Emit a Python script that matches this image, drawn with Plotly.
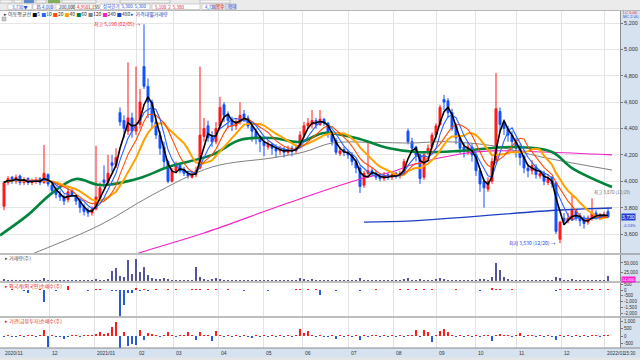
import pandas as pd
import plotly.graph_objects as go
from plotly.subplots import make_subplots

# ---------------- data ----------------
month_labels = ["2020/11", "12", "2021/01", "02", "03", "04", "05", "06",
                "07", "08", "09", "10", "11", "12", "2022/01"]
month_pos = [-0.5, 11.25, 22.5, 33, 42.25, 53.5, 64.75, 74.5, 86, 97.25,
             108, 117.75, 128, 139.25, 150]

opens = [3810, 3990, 4030, 4000, 4040, 3990, 4020, 3990, 4000, 4020, 3990, 4050, 3970, 3940, 3900, 3880, 3860, 3930, 3890,
         3850, 3810, 3780, 3760, 3790, 3870, 4010, 3990, 4140, 4120, 4520, 4460, 4380, 4480, 4380, 4430, 4870, 4720, 4600,
         4450, 4350, 4260, 4150, 4000, 4080, 4120, 4090, 4060, 4030, 4050, 4100, 4340, 4420, 4340, 4300, 4420, 4580, 4510,
         4460, 4420, 4450, 4510, 4480, 4420, 4380, 4340, 4300, 4260, 4280, 4250, 4230, 4240, 4220, 4250, 4230, 4260, 4350,
         4420, 4430, 4460, 4430, 4470, 4440, 4360, 4310, 4210, 4240, 4220, 4200, 4150, 4100, 3970, 4060, 4080, 4060, 4040,
         4020, 4050, 4030, 4060, 4040, 4060, 4380, 4300, 4260, 4200, 4030, 4220, 4260, 4350, 4430, 4620, 4610, 4520, 4420,
         4330, 4260, 4220, 4260, 4200, 4080, 4000, 3940, 4000, 4160, 4530, 4440, 4400, 4350, 4300, 4250, 4190, 4100, 4080,
         4110, 4040, 4060, 3990, 4030, 3990, 3560, 3720, 3700, 3710, 3780, 3740, 3720, 3690, 3720, 3760, 3720, 3730, 3770]
highs = [4000, 4040, 4040, 4050, 4050, 4030, 4030, 4020, 4030, 4030, 4275, 4060, 3990, 3960, 3930, 3900, 3960, 3940, 3900,
         3870, 3830, 3800, 3810, 4270, 3990, 4120, 4200, 4200, 4250, 4560, 4500, 4900, 4520, 4870, 4700, 5190, 4780, 4620,
         4480, 4380, 4300, 4160, 4100, 4150, 4140, 4110, 4080, 4080, 4110, 4870, 4480, 4460, 4380, 4450, 4640, 4600, 4530,
         4490, 4480, 4600, 4540, 4500, 4450, 4400, 4350, 4320, 4310, 4290, 4280, 4270, 4260, 4270, 4270, 4280, 4380, 4450,
         4480, 4540, 4480, 4540, 4480, 4450, 4380, 4330, 4260, 4260, 4240, 4220, 4170, 4120, 4080, 4300, 4100, 4080, 4060,
         4070, 4060, 4070, 4070, 4080, 4170, 4400, 4330, 4270, 4210, 4220, 4280, 4370, 4440, 4580, 4655, 4630, 4550, 4440,
         4350, 4290, 4300, 4290, 4220, 4100, 4020, 4030, 4180, 4820, 4560, 4470, 4420, 4380, 4330, 4280, 4200, 4130, 4160,
         4130, 4080, 4080, 4050, 4040, 4000, 3700, 3760, 3760, 3895, 3790, 3760, 3740, 3740, 3870, 3780, 3760, 3770, 3800]
lows = [3780, 3970, 3980, 3980, 3970, 3970, 3970, 3970, 3980, 3970, 3980, 3960, 3910, 3870, 3850, 3820, 3840, 3880, 3820,
        3760, 3740, 3730, 3740, 3780, 3850, 3950, 3970, 4070, 4100, 4420, 4330, 4350, 4330, 4350, 4400, 4700, 4480, 4400,
        4320, 4200, 4100, 3985, 3990, 4060, 4060, 4040, 4020, 4020, 4030, 4090, 4300, 4300, 4260, 4280, 4400, 4450, 4400,
        4380, 4390, 4430, 4450, 4400, 4300, 4280, 4220, 4190, 4240, 4200, 4180, 4200, 4180, 4200, 4190, 4210, 4250, 4330,
        4400, 4400, 4400, 4420, 4420, 4330, 4270, 4200, 4190, 4190, 4170, 4120, 4060, 3910, 3950, 4040, 4040, 4010, 4000,
        4000, 4010, 4010, 4020, 4020, 4050, 4280, 4230, 4150, 3980, 4010, 4200, 4240, 4330, 4420, 4540, 4480, 4380, 4280,
        4210, 4180, 4200, 4150, 4040, 3920, 3800, 3920, 3980, 4140, 4380, 4350, 4300, 4240, 4180, 4120, 4060, 4030, 4050,
        4020, 4020, 3970, 3970, 3950, 3600, 3530, 3680, 3680, 3700, 3700, 3660, 3640, 3670, 3700, 3710, 3710, 3720, 3720]
closes = [3990, 4020, 4000, 4030, 3990, 4010, 3990, 4000, 4010, 3990, 4060, 3980, 3930, 3900, 3880, 3850, 3920, 3900, 3850,
          3800, 3770, 3760, 3790, 3880, 3950, 3990, 4060, 4120, 4180, 4450, 4400, 4480, 4380, 4420, 4600, 4720, 4600, 4450,
          4350, 4250, 4150, 4000, 4080, 4120, 4080, 4060, 4040, 4050, 4080, 4350, 4400, 4330, 4300, 4400, 4560, 4500, 4460,
          4420, 4450, 4500, 4480, 4420, 4380, 4330, 4300, 4270, 4280, 4250, 4230, 4240, 4220, 4240, 4230, 4250, 4350, 4420,
          4440, 4460, 4430, 4470, 4440, 4360, 4300, 4220, 4230, 4220, 4200, 4150, 4100, 3960, 4060, 4080, 4060, 4030, 4020,
          4040, 4030, 4050, 4040, 4060, 4150, 4300, 4250, 4200, 4020, 4200, 4250, 4350, 4420, 4560, 4600, 4520, 4400, 4330,
          4250, 4230, 4260, 4200, 4080, 3980, 3950, 4000, 4150, 4550, 4430, 4400, 4350, 4300, 4250, 4180, 4100, 4080, 4120,
          4050, 4060, 4000, 4020, 3980, 3620, 3690, 3700, 3720, 3780, 3720, 3700, 3680, 3720, 3760, 3730, 3740, 3750, 3730]
volume = [6000, 3000, 2500, 2500, 2000, 2000, 2500, 2000, 2000, 2500, 8000, 3000, 2500, 2000, 2000, 2500, 3500, 2000, 2000,
          2500, 2000, 2500, 2000, 6000, 4000, 3500, 5000, 28000, 36000, 15000, 10000, 58000, 20000, 61000, 25000, 39000, 18000, 8000,
          6000, 5000, 8000, 5000, 3000, 3000, 2500, 2500, 3000, 4000, 40000, 12000, 6000, 4000, 5000, 8000, 6000, 4000, 3000,
          3000, 3000, 4000, 3000, 2500, 2500, 2000, 2500, 2000, 2000, 2000, 2000, 2000, 2000, 2000, 2000, 3500, 7000, 5000,
          4000, 5000, 3000, 4000, 3000, 3000, 3000, 2500, 2500, 2500, 2500, 3000, 3000, 8000, 4000, 3000, 2500, 2000, 2000,
          2000, 2000, 2000, 2000, 2500, 5000, 9000, 4000, 3000, 6000, 3000, 3500, 4000, 5000, 8000, 6000, 4000, 3000, 3000,
          3000, 2500, 2500, 3000, 4000, 6000, 5000, 4000, 12000, 50000, 30000, 10000, 6000, 4000, 3000, 3000, 3000, 2500, 3000,
          2500, 2500, 2500, 2000, 3000, 12000, 9000, 4000, 3000, 5000, 3000, 2500, 3000, 2500, 4000, 3000, 2500, 3000, 14000]
foreign_net = [40, -30, 50, -40, 30, -60, -250, 40, -30, 50, -1000, -40, 30, -50, 40, 30, 350, -30, 40,
               -40, 30, -50, 40, 60, 50, -40, 30, -60, -80, -2200, -1300, -300, -250, 150, -100, 60, -50, 40,
               50, 40, -30, 60, 40, 50, 30, 40, -30, 50, 80, 60, 40, 50, 30, 60, 40, 30, 50,
               -30, -40, 30, -50, -30, -40, 30, -30, -40, -50, 30, -30, -40, -30, 40, -30, 50, 60, 40,
               50, 40, 60, -400, 30, -40, -30, -50, 40, -30, -40, -30, 40, -60, 30, 40, -30, 50, -40,
               30, -40, 40, -30, 50, 40, 60, -40, 50, 30, 60, 40, 50, 30, 40, 30, 40, 30, 50,
               40, -30, 40, 30, -30, -50, 40, 30, 200, 80, 50, 30, 40, 60, -40, 30, -40, 40, 30,
               -30, 30, -40, -30, 40, -60, 50, 40, 60, 40, 50, 60, 40, 50, 60, 40, 50, 40, 60]
inst_net = [-80, 60, -60, -100, 80, -60, 40, 60, -50, 80, 420, -750, 60, -80, -60, -200, -80, 60, 40,
            -60, 40, 60, 80, 120, 280, 150, 200, 620, 950, -1000, 300, -700, -550, -600, 400, -300, 200, 150,
            80, -60, 50, 300, 60, -80, 50, 80, 250, 60, -300, 300, 80, 60, -350, 350, 80, -60, 50,
            -100, 80, -80, 60, -60, -120, 80, -60, 50, -80, 60, -50, 60, -80, 50, -60, 80, 500, 200,
            350, 100, -80, 60, -60, -80, 60, -200, 80, -60, 60, -100, 50, -300, 60, -80, 50, 60, -80,
            60, -80, 50, -60, 80, -60, 100, 50, 400, -80, 380, 300, -400, 60, 350, 450, 300, 80, -60,
            80, -60, 50, -80, 60, -100, 60, 80, -350, 100, 150, 60, 80, -60, 50, 200, -80, 60, 50,
            -80, 60, -60, 80, -50, -250, 60, -100, 80, -60, 50, -80, 60, -50, 80, 60, -60, 50, 80]

# long moving averages (candle index, price)
ma60_idx = [-1, 6, 12, 18, 24, 34, 41, 52, 59, 67, 74, 80, 88, 96, 103, 114, 127, 137, 142, 152]
ma60_val = [3590, 3745, 3910, 4017, 3971, 4025, 4108, 4200, 4313, 4328, 4298, 4366, 4328, 4252, 4222, 4230, 4260, 4222, 4100, 3956]
ma120_idx = [-1, 7, 24, 37, 52, 67, 75, 82, 92, 102, 110, 122, 135, 152]
ma120_val = [3350, 3448, 3668, 3895, 4108, 4177, 4222, 4290, 4295, 4290, 4300, 4270, 4180, 4085]
ma240_idx = [29, 33, 50, 71, 90, 97, 102, 114, 122, 135, 152]
ma240_val = [3400, 3448, 3607, 3835, 4025, 4070, 4125, 4207, 4230, 4222, 4200]
ma480_idx = [90, 102, 139, 152]
ma480_val = [3690, 3699, 3782, 3797]

price_ticks = [3600, 3800, 4000, 4200, 4400, 4600, 4800, 5000, 5200]
vol_ticks = [25000, 50000]
foreign_ticks = [500, 0, -500, -1000, -1500, -2000]
inst_ticks = [1000, 500, 0, -500]

# ---------------- helpers for layout positions ----------------
PLOT_W, TOP, BOT = 620.0, 11.0, 348.0
def py(px):
    return (BOT - px) / (BOT - TOP)
def pxx(px):
    return px / PLOT_W

FONT = "Noto Sans CJK KR, Noto Sans, sans-serif"
NUMFONT = "Liberation Sans, Arial, sans-serif"
RED, BLUE = "#ff1a1a", "#1450ff"

n = len(closes)
xs = list(range(n))
cs = pd.Series(closes)

fig = make_subplots(rows=4, cols=1, shared_xaxes=True, vertical_spacing=0)

fig.add_trace(go.Candlestick(
    x=xs, open=opens, high=highs, low=lows, close=closes,
    increasing=dict(line=dict(color=RED, width=1), fillcolor=RED),
    decreasing=dict(line=dict(color=BLUE, width=1), fillcolor=BLUE),
    whiskerwidth=0, hoverinfo="skip"), row=1, col=1)

for idx, val, col, w in [(ma480_idx, ma480_val, "#1f3fc4", 1.3),
                         (ma240_idx, ma240_val, "#f020c8", 1.1),
                         (ma120_idx, ma120_val, "#808080", 1.0),
                         (ma60_idx, ma60_val, "#00843c", 2.6)]:
    fig.add_trace(go.Scatter(x=idx, y=val, mode="lines", hoverinfo="skip",
                             line=dict(color=col, width=w, shape="spline", smoothing=1.0)),
                  row=1, col=1)

for win, col, w in [(12, "#ffa200", 2.0), (8, "#ff4b00", 1.1), (5, "#2a62ff", 1.1), (3, "#000000", 1.6)]:
    ma = cs.rolling(win, min_periods=1).mean()
    fig.add_trace(go.Scatter(x=xs, y=ma, mode="lines", hoverinfo="skip",
                             line=dict(color=col, width=w)), row=1, col=1)

fig.add_trace(go.Bar(x=xs, y=volume, marker_color="#55559a", marker_line_width=0,
                     width=0.55, hoverinfo="skip"), row=2, col=1)
fig.add_trace(go.Bar(x=xs, y=foreign_net, width=0.6, marker_line_width=0, hoverinfo="skip",
                     marker_color=[RED if v >= 0 else "#2a5bd7" for v in foreign_net]), row=3, col=1)
fig.add_trace(go.Bar(x=xs, y=inst_net, width=0.6, marker_line_width=0, hoverinfo="skip",
                     marker_color=[RED if v >= 0 else "#2a5bd7" for v in inst_net]), row=4, col=1)

fig.update_xaxes(range=[-1, 154], tickvals=month_pos[1:], showticklabels=False, ticks="",
                 showgrid=True, gridcolor="#e3e3e3", gridwidth=1, zeroline=False,
                 showline=False, rangeslider_visible=False, automargin=False)

def ycommon(size):
    return dict(side="right", tickfont=dict(size=size, color="#333", family=NUMFONT), ticks="outside",
                ticklen=2, tickcolor="#777", showline=True, linecolor="#8a8a8a", linewidth=1,
                zeroline=False, fixedrange=True, automargin=False)

fig.update_yaxes(domain=[py(253), 1.0], range=[3455.9, 5291], tickvals=price_ticks,
                 ticktext=[f"{v:,}" for v in price_ticks], showgrid=True, gridcolor="#e6e6e6",
                 row=1, col=1, **ycommon(5.5))
fig.update_yaxes(domain=[py(281), py(255)], range=[0, 72200], tickvals=vol_ticks,
                 ticktext=[f"{v:,}" for v in vol_ticks], showgrid=False, row=2, col=1, **ycommon(4.6))
fig.update_yaxes(domain=[py(316), py(283)], range=[-2236, 602], tickvals=foreign_ticks,
                 ticktext=[f"{v:,}" for v in foreign_ticks], showgrid=False, row=3, col=1, **ycommon(4.6))
fig.update_yaxes(domain=[py(348), py(318)], range=[-822, 1233], tickvals=inst_ticks,
                 ticktext=[f"{v:,}" for v in inst_ticks], showgrid=False, row=4, col=1, **ycommon(4.6))

shapes = []
# white plotting backdrop (covers the gaps between panels)
shapes.append(dict(type="rect", xref="paper", yref="paper", x0=0, x1=1, y0=0, y1=1,
                   fillcolor="white", line=dict(width=0), layer="below"))
# panel separators
for sep in [254, 282, 317]:
    shapes.append(dict(type="line", xref="paper", yref="paper", x0=0, x1=pxx(640),
                       y0=py(sep), y1=py(sep), line=dict(color="#7d7d7d", width=1)))
# bottom date band border and scrollbar strip
shapes.append(dict(type="line", xref="paper", yref="paper", x0=0, x1=pxx(640), y0=py(348), y1=py(348),
                   line=dict(color="#8a8a8a", width=1)))
shapes.append(dict(type="rect", xref="paper", yref="paper", x0=0, x1=pxx(640), y0=py(360), y1=py(357.5),
                   fillcolor="#e6e6e6", line=dict(width=0)))
# toolbar
shapes.append(dict(type="rect", xref="paper", yref="paper", x0=0, x1=pxx(640), y0=py(11), y1=py(0),
                   fillcolor="#ebebeb", line=dict(width=0)))
shapes.append(dict(type="line", xref="paper", yref="paper", x0=0, x1=pxx(640), y0=py(10.5), y1=py(10.5),
                   line=dict(color="#b8b8b8", width=1)))
for x0, x1, fc in [(0, 12, "#f6f6f6"), (14, 22, "#f6f6f6"), (24, 34, "#4f86d8"), (36, 46, "#f6f6f6"),
                   (48, 60, "#7fb24a"), (62, 96, "#f6f6f6"), (120, 170, "#f6f6f6"), (200, 230, "#f6f6f6")]:
    shapes.append(dict(type="rect", xref="paper", yref="paper", x0=pxx(x0), x1=pxx(x1),
                       y0=py(3), y1=py(0), fillcolor=fc, line=dict(color="#9a9a9a", width=0.5)))
for x0, x1 in [(8, 32), (33, 38), (39, 52), (56, 72), (74, 96), (100, 150), (152, 200), (202, 212)]:
    shapes.append(dict(type="rect", xref="paper", yref="paper", x0=pxx(x0), x1=pxx(x1),
                       y0=py(9.5), y1=py(4), fillcolor="white", line=dict(color="#a8a8a8", width=0.5)))
shapes.append(dict(type="rect", xref="paper", yref="paper", x0=pxx(213), x1=pxx(223), y0=py(9.5), y1=py(4),
                   fillcolor="#f4c9c4", line=dict(color="#a8a8a8", width=0.5)))
shapes.append(dict(type="rect", xref="paper", yref="paper", x0=pxx(225), x1=pxx(236), y0=py(9.5), y1=py(4),
                   fillcolor="#c9daf2", line=dict(color="#a8a8a8", width=0.5)))
# small collapse icon in the price panel
shapes.append(dict(type="rect", xref="paper", yref="paper", x0=pxx(2), x1=pxx(6), y0=py(21), y1=py(17),
                   fillcolor="#c8c8c8", line=dict(color="#999", width=0.5)))

ann = []
def note(x, y, text, size=6, color="#333", xanchor="left", yanchor="middle", xref="paper", yref="paper",
         family=FONT, **kw):
    ann.append(dict(x=x, y=y, text=text, xref=xref, yref=yref, xanchor=xanchor, yanchor=yanchor,
                    showarrow=False, font=dict(size=size, color=color, family=family), **kw))

legend_html = ('▸ 이동평균선 <span style="color:#000">■</span>5 <span style="color:#2a62ff">■</span>10 '
               '<span style="color:#ff4b00">■</span>20 <span style="color:#ffa200">■</span>40 '
               '<span style="color:#00843c">■</span>60 <span style="color:#808080">■</span>120 '
               '<span style="color:#f020c8">■</span>240 <span style="color:#1f3fc4">■</span>480 '
               '<span style="color:#1f3fc4">▸ 가격대별거래량</span>')
note(pxx(2), py(14), legend_html, size=5, color="#333")
note(pxx(3), py(258), "▸ 거래량(주)", size=5, color="#444")
note(pxx(3), py(286), "▸ 외국계(외국인)순매수(주)", size=5, color="#e02020")
note(pxx(3), py(321), "▸ 기관(금융투자)순매수(주)", size=5, color="#e02020")

# toolbar texts
for x, t, c in [(10, "3,730▼", "#1f4fd0"), (34, "15", "#1f4fd0"), (40, "4,000", "#1f4fd0"),
                (57, "200,000", "#333"), (75, "4,950", "#e02020"), (86, "1,155", "#333"),
                (101, "상하한가  5,300  5,300", "#1f4fd0"), (153, "5,100  2  5,380", "#e02020"),
                (203, "4,726", "#1f4fd0"), (214, "봉수", "#c02020"), (226, "확대", "#1f4fd0")]:
    note(pxx(x), py(6.8), t, size=4.5, color=c)
note(pxx(621), py(12.8), "LC 5.00", size=4, color="#e02020", family=NUMFONT)
note(pxx(621), py(16.3), "MC 2.00", size=4, color="#1f4fd0", family=NUMFONT)

# data annotations
note(35, 5190, "최고 5,190 (02/05) →", size=5, color="#ff2020", xanchor="right", xref="x", yref="y", xshift=-1)
note(139, 3530, "최저 3,530 (12/20) →", size=5, color="#2040e0", xanchor="right", xref="x", yref="y", xshift=-2)
note(147, 3870, "최고 3,870 (12/29)", size=4.5, color="#666", xanchor="left", yanchor="bottom",
     xref="x", yref="y", xshift=0)

# current price / volume tags on the right axis
ann.append(dict(x=1.0, y=closes[-1], xref="paper", yref="y", xanchor="left", yanchor="middle", showarrow=False,
                text=f"{closes[-1]:,}", bgcolor="#1f3fd6", borderpad=0, xshift=1,
                font=dict(size=5, color="white", family=NUMFONT)))
ann.append(dict(x=1.0, y=closes[-1], xref="paper", yref="y", xanchor="left", yanchor="top", showarrow=False,
                text="-0.53%", xshift=1, yshift=-4, font=dict(size=4, color="#1f3fd6", family=NUMFONT)))
ann.append(dict(x=1.0, y=volume[-1], xref="paper", yref="y2", xanchor="left", yanchor="top", showarrow=False,
                text=f"{volume[-1]:,}", bgcolor="#ff20d0", borderpad=0, xshift=1, yshift=-0.5,
                font=dict(size=4, color="white", family=NUMFONT)))

# month labels in the bottom band
for pos, lab in zip(month_pos, month_labels):
    note(pos, py(353), lab, size=5, color="#333", xref="x4", xshift=1, family=NUMFONT)
note(pxx(622), py(353), "15:30", size=4.5, color="#333", family=NUMFONT)

fig.update_layout(width=640, height=360, margin=dict(l=0, r=20, t=11, b=12, autoexpand=False),
                  paper_bgcolor="#d7e2f0", plot_bgcolor="white", showlegend=False,
                  bargap=0, shapes=shapes, annotations=ann, hovermode=False,
                  font=dict(family=FONT, size=7, color="#333"))
fig.write_html("out.html", config={"displayModeBar": False, "staticPlot": True},
               post_script="document.body.style.margin='0';document.body.style.padding='0';")
